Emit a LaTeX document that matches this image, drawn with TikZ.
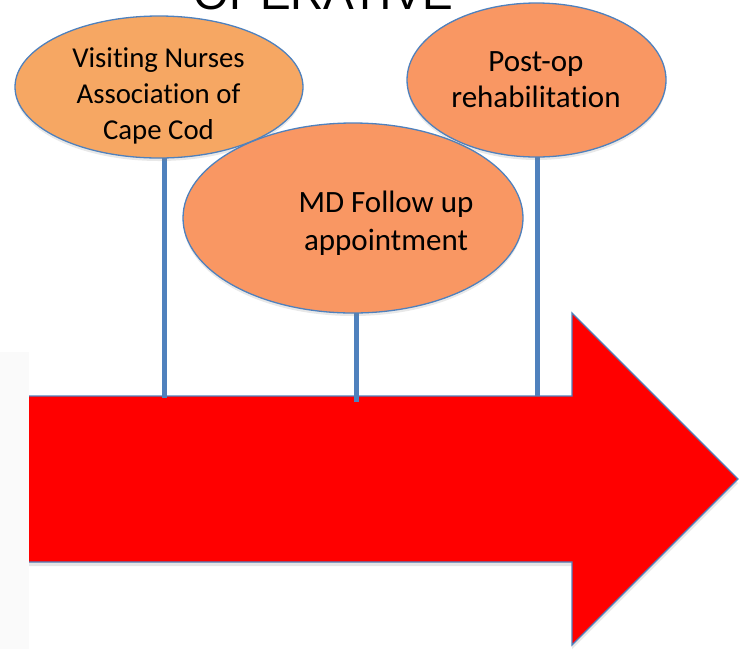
\documentclass[tikz,border=0pt]{standalone}
\usepackage{fontspec}
\setmainfont{Carlito}[Ligatures=NoCommon]
\newfontfamily\headfont{Liberation Sans}
\usetikzlibrary{shapes.geometric,shadows}
\definecolor{outlineblue}{HTML}{4F81BD}
\definecolor{sandfill}{HTML}{F6A763}
\definecolor{salmonfill}{HTML}{F99763}
\definecolor{stripgray}{HTML}{FAFAFA}
\tikzset{
  bubble/.style={ellipse, draw=outlineblue, line width=1.3pt, inner sep=0pt,
    drop shadow={shadow xshift=0pt, shadow yshift=-3pt, opacity=0.18}},
  bubbletext/.style={align=center, text=black},
  stem/.style={draw=outlineblue, line width=5pt},
  timeline/.style={fill=red, draw=none,
    drop shadow={shadow xshift=0pt, shadow yshift=-4pt, opacity=0.2}},
}
\begin{document}
\begin{tikzpicture}[x=1pt,y=-1pt]
\useasboundingbox (0,0) rectangle (743,649);
\clip (0,0) rectangle (743,649);

% heading, mostly above the visible area
\node[anchor=base, inner sep=0pt, font=\headfont\fontsize{46}{50}\selectfont] (head) at (323.5,9) {OPERATIVE};

% faint strip on the left
\fill[stripgray] (0,352) rectangle (29,649);

% the big timeline arrow
\coordinate (a0) at (29,396);
\coordinate (a1) at (572,396);
\coordinate (a2) at (572,313);
\coordinate (tip) at (738,479);
\coordinate (a4) at (572,645);
\coordinate (a5) at (572,562);
\coordinate (a6) at (29,562);
\path[timeline] (a0) -- (a1) -- (a2) -- (tip) -- (a4) -- (a5) -- (a6) -- cycle;
\draw[outlineblue, line width=1.3pt, line join=miter] (a0) -- (a1) -- (a2) -- (tip) -- (a4) -- (a5) -- (a6);

% attachment points on the arrow
\coordinate (t1) at (164,398);
\coordinate (t2) at (356,402);
\coordinate (t3) at (537,396);

% bubble positions (used by the stems, drawn below the bubbles)
\path (159,87) coordinate (c1) (353,218) coordinate (c2) (536.5,80) coordinate (c3);

% stems from bubbles down to the arrow
\draw[stem] (t1 |- c1) -- (t1);
\draw[stem] (t2 |- c2) -- (t2);
\draw[stem] (t3 |- c3) -- (t3);

% bubbles
\node[bubble, fill=sandfill, minimum width=288pt, minimum height=142pt] (e1) at (c1) {};
\node[bubble, fill=salmonfill, minimum width=340pt, minimum height=190pt] (e2) at (c2) {};
\node[bubble, fill=salmonfill, minimum width=259pt, minimum height=154pt] (e3) at (c3) {};

% labels
\node[bubbletext, font=\fontsize{28.8}{36}\selectfont] (l1) at (158.5,96) {Visiting Nurses\\Association of\\Cape Cod};
\node[bubbletext, font=\fontsize{31}{38}\selectfont] (l2) at (386,223) {MD Follow up\\appointment};
\node[bubbletext, font=\fontsize{31}{36}\selectfont] (l3) at (536,80) {Post-op\\rehabilitation};
\end{tikzpicture}
\end{document}
